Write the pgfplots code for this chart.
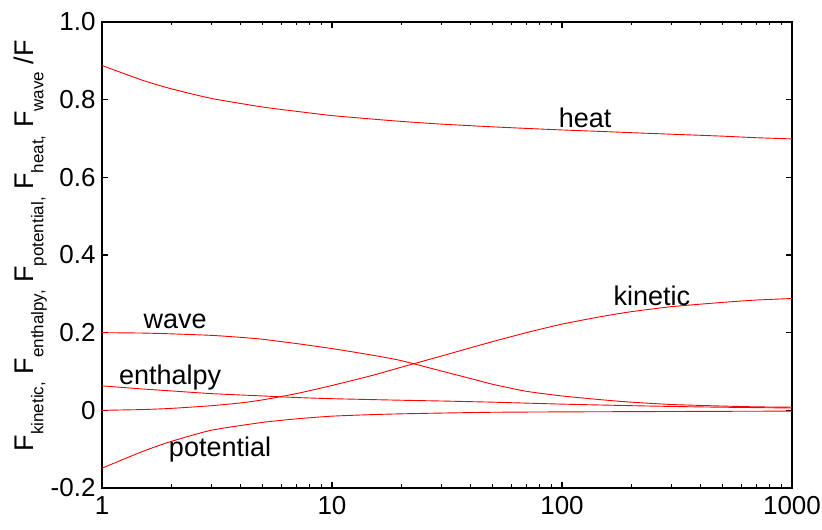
\documentclass[border=0pt]{standalone}
\usepackage{fontspec}
\setmainfont{Liberation Sans}
\usepackage{pgfplots}
\pgfplotsset{compat=1.18}

% lowered, smaller subscript for the flux names
\newcommand{\sub}[1]{\raisebox{-10pt}{\fontsize{17}{17}\selectfont #1}}

\begin{document}
\begin{tikzpicture}
\path[use as bounding box] (-102pt,-42pt) rectangle (720pt,488pt);
\begin{axis}[
  scale only axis,
  width=690pt, height=466pt,
  xmode=log,
  xmin=1, xmax=1000,
  ymin=-0.2, ymax=1.0,
  xtick={1,10,100,1000},
  xticklabels={1,10,100,1000},
  ytick={-0.2,0,0.2,0.4,0.6,0.8,1.0},
  yticklabels={-0.2,0,0.2,0.4,0.6,0.8,1.0},
  tick align=inside,
  major tick length=6pt,
  minor tick length=3.5pt,
  axis line style={line width=1.4pt},
  every tick/.style={black, line width=1.1pt},
  every minor tick/.style={black, line width=0.9pt},
  tick label style={font=\fontsize{26}{28}\selectfont},
  yticklabel style={xshift=-3pt},
  xticklabel style={yshift=-5pt},
  ylabel={\fontsize{27}{29}\selectfont F\sub{kinetic,} F\sub{enthalpy,} F\sub{potential,} F\sub{heat,} F\sub{wave} /F},
  ylabel style={at={(axis description cs:-0.104,0.52)}, anchor=center},
  flux/.style={red, line width=0.9pt, mark=none, smooth, tension=0.35},
  clip=true,
]
% heat
\addplot[flux] coordinates {(1,0.888) (1.5,0.850) (2,0.828) (3,0.803) (5,0.781) (7,0.770) (10,0.759) (15,0.750) (20,0.744) (30,0.737) (50,0.730) (70,0.726) (100,0.722) (150,0.718) (200,0.715) (300,0.711) (500,0.706) (700,0.702) (1000,0.699)};
% kinetic
\addplot[flux] coordinates {(1,0.000) (1.5,0.002) (2,0.005) (3,0.012) (4,0.019) (5,0.027) (7,0.043) (10,0.064) (15,0.090) (20,0.111) (30,0.140) (40,0.161) (50,0.177) (70,0.200) (100,0.222) (150,0.242) (200,0.254) (300,0.267) (500,0.278) (700,0.284) (1000,0.288)};
% wave
\addplot[flux] coordinates {(1,0.200) (1.5,0.199) (2,0.197) (3,0.193) (4,0.188) (5,0.183) (7,0.172) (10,0.159) (15,0.142) (20,0.128) (30,0.101) (40,0.082) (50,0.067) (70,0.049) (100,0.037) (150,0.027) (200,0.021) (300,0.015) (500,0.011) (700,0.009) (1000,0.008)};
% enthalpy
\addplot[flux] coordinates {(1,0.063) (1.5,0.055) (2,0.050) (3,0.043) (5,0.037) (7,0.033) (10,0.030) (20,0.026) (30,0.024) (50,0.021) (100,0.016) (200,0.012) (300,0.010) (500,0.008) (1000,0.006)};
% potential
\addplot[flux] coordinates {(1,-0.149) (1.5,-0.106) (2,-0.080) (3,-0.051) (5,-0.031) (7,-0.022) (10,-0.015) (15,-0.011) (20,-0.009) (30,-0.007) (50,-0.005) (100,-0.004) (300,-0.003) (1000,-0.002)};

\begin{scope}[every node/.style={font=\fontsize{27}{29}\selectfont, black}]
\node at (axis cs:126,0.754) {heat};
\node at (axis cs:246,0.295) {kinetic};
\node at (axis cs:2.08,0.230) {wave};
\node at (axis cs:1.98,0.0835) {enthalpy};
\node at (axis cs:3.26,-0.102) {potential};
\end{scope}
\end{axis}
\end{tikzpicture}
\end{document}
